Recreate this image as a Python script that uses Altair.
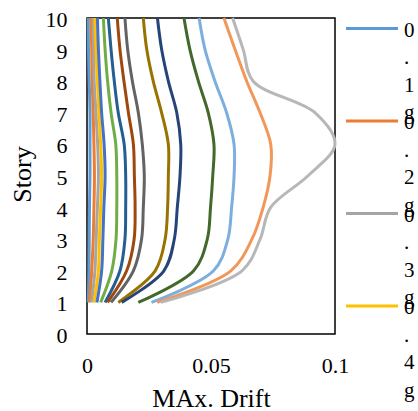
import altair as alt
import pandas as pd

stories = [1, 2, 3, 4, 5, 6, 7, 8, 9, 10]
series_names = ["0.1g", "0.2g", "0.3g", "0.4g", "0.5g", "0.6g", "0.7g", "0.8g",
                "0.9g", "1.0g", "1.1g", "1.2g", "1.3g", "1.4g", "1.5g"]

d01 = [0.0005, 0.0008, 0.0009, 0.0010, 0.0012, 0.0012, 0.0012, 0.0009, 0.0006, 0.0005]
d02 = [0.0010, 0.0019, 0.0025, 0.0028, 0.0030, 0.0028, 0.0025, 0.0021, 0.0019, 0.0016]
d03 = [0.0018, 0.0032, 0.0037, 0.0042, 0.0046, 0.0043, 0.0036, 0.0029, 0.0027, 0.0025]
d04 = [0.0028, 0.0046, 0.0050, 0.0055, 0.0059, 0.0055, 0.0048, 0.0042, 0.0036, 0.0032]
d05 = [0.0040, 0.0059, 0.0064, 0.0068, 0.0073, 0.0069, 0.0059, 0.0052, 0.0046, 0.0042]
d06 = [0.0055, 0.0100, 0.0117, 0.0120, 0.0120, 0.0116, 0.0097, 0.0083, 0.0073, 0.0066]
d07 = [0.0073, 0.0133, 0.0153, 0.0156, 0.0156, 0.0150, 0.0126, 0.0110, 0.0097, 0.0086]
d08 = [0.0083, 0.0160, 0.0190, 0.0194, 0.0191, 0.0187, 0.0167, 0.0149, 0.0133, 0.0122]
d09 = [0.0097, 0.0187, 0.0220, 0.0227, 0.0231, 0.0223, 0.0207, 0.0183, 0.0164, 0.0153]
d10 = [0.0126, 0.0275, 0.0315, 0.0325, 0.0328, 0.0328, 0.0301, 0.0267, 0.0241, 0.0227]
d11 = [0.0140, 0.0310, 0.0352, 0.0364, 0.0375, 0.0378, 0.0362, 0.0328, 0.0301, 0.0284]
d12 = [0.0207, 0.0430, 0.0485, 0.0498, 0.0507, 0.0512, 0.0489, 0.0449, 0.0415, 0.0391]
d13 = [0.0260, 0.0510, 0.0568, 0.0583, 0.0593, 0.0593, 0.0563, 0.0516, 0.0476, 0.0452]
d14 = [0.0283, 0.0580, 0.0665, 0.0710, 0.0738, 0.0741, 0.0698, 0.0644, 0.0597, 0.0552]
d15 = [0.0298, 0.0625, 0.0698, 0.0740, 0.0890, 0.1000, 0.0920, 0.0670, 0.0630, 0.0587]

all_series = [d01, d02, d03, d04, d05, d06, d07, d08, d09, d10, d11, d12, d13, d14, d15]

colors = ["#5B9BD5", "#ED7D31", "#A5A5A5", "#FFC000", "#4472C4", "#70AD47",
          "#255E91", "#9E480E", "#636363", "#997300", "#264478", "#43682B",
          "#7CAFDD", "#F1975A", "#B7B7B7"]

x_ticks = [0, 0.05, 0.1]
y_ticks = [0, 1, 2, 3, 4, 5, 6, 7, 8, 9, 10]

rows = []
for name, vals in zip(series_names, all_series):
    for s, v in zip(stories, vals):
        rows.append({"series": name, "story": s, "drift": v})
df = pd.DataFrame(rows)
legend_df = pd.DataFrame({"series": series_names, "idx": list(range(len(series_names)))})

FONT = "Liberation Serif"
color_scale = alt.Scale(domain=series_names, range=colors)

lines = alt.Chart(df).mark_line(interpolate="catmull-rom", strokeWidth=3).encode(
    x=alt.X("drift:Q", scale=alt.Scale(domain=[0, 0.1], nice=False),
            axis=alt.Axis(values=x_ticks, title="MAx. Drift", labelExpr="datum.value + ''",
                          labelBaseline="alphabetic", labelPadding=38, labelFlush=False,
                          titleBaseline="alphabetic", titleY=72)),
    y=alt.Y("story:Q", scale=alt.Scale(domain=[0, 10], nice=False),
            axis=alt.Axis(values=y_ticks, title="Story", labelPadding=20, labelOffset=1.5,
                          labelFlush=False,
                          titleAngle=270, titleBaseline="middle", titleAlign="center",
                          titleX=-65, titleY=156)),
    color=alt.Color("series:N", scale=color_scale, legend=None),
    order=alt.Order("story:Q"),
)

leg_y = alt.Y("idx:Q", scale=alt.Scale(domain=[-0.1146, 3.302], reverse=True, nice=False, zero=False),
              axis=None)

leg_rules = alt.Chart(legend_df).transform_filter("datum.idx < 4").mark_rule(strokeWidth=3).encode(
    x=alt.value(259), x2=alt.value(311), y=leg_y,
    color=alt.Color("series:N", scale=color_scale, legend=None),
)

leg_text = alt.Chart(legend_df).transform_filter("datum.idx < 4").transform_calculate(
    chars="split(datum.series, '')"
).mark_text(align="left", baseline="alphabetic", dy=8.4, fontSize=21, font=FONT,
            lineHeight=27.5, color="black").encode(
    x=alt.value(317), y=leg_y, text="chars:N",
)

chart = alt.layer(lines, leg_rules, leg_text).resolve_scale(y="independent").properties(
    width=248, height=316,
    autosize=alt.AutoSizeParams(type="none"),
    padding={"left": 87, "top": 18, "right": 83, "bottom": 77},
).configure_view(stroke="black", strokeWidth=1.5).configure_axis(
    grid=False, domain=False, ticks=False, tickSize=0,
    labelFont=FONT, titleFont=FONT, labelColor="black", titleColor="black",
    labelFontSize=22, titleFontSize=26, titleFontWeight="normal",
)

chart.save("out.html", embed_options={"renderer": "svg", "actions": False})
